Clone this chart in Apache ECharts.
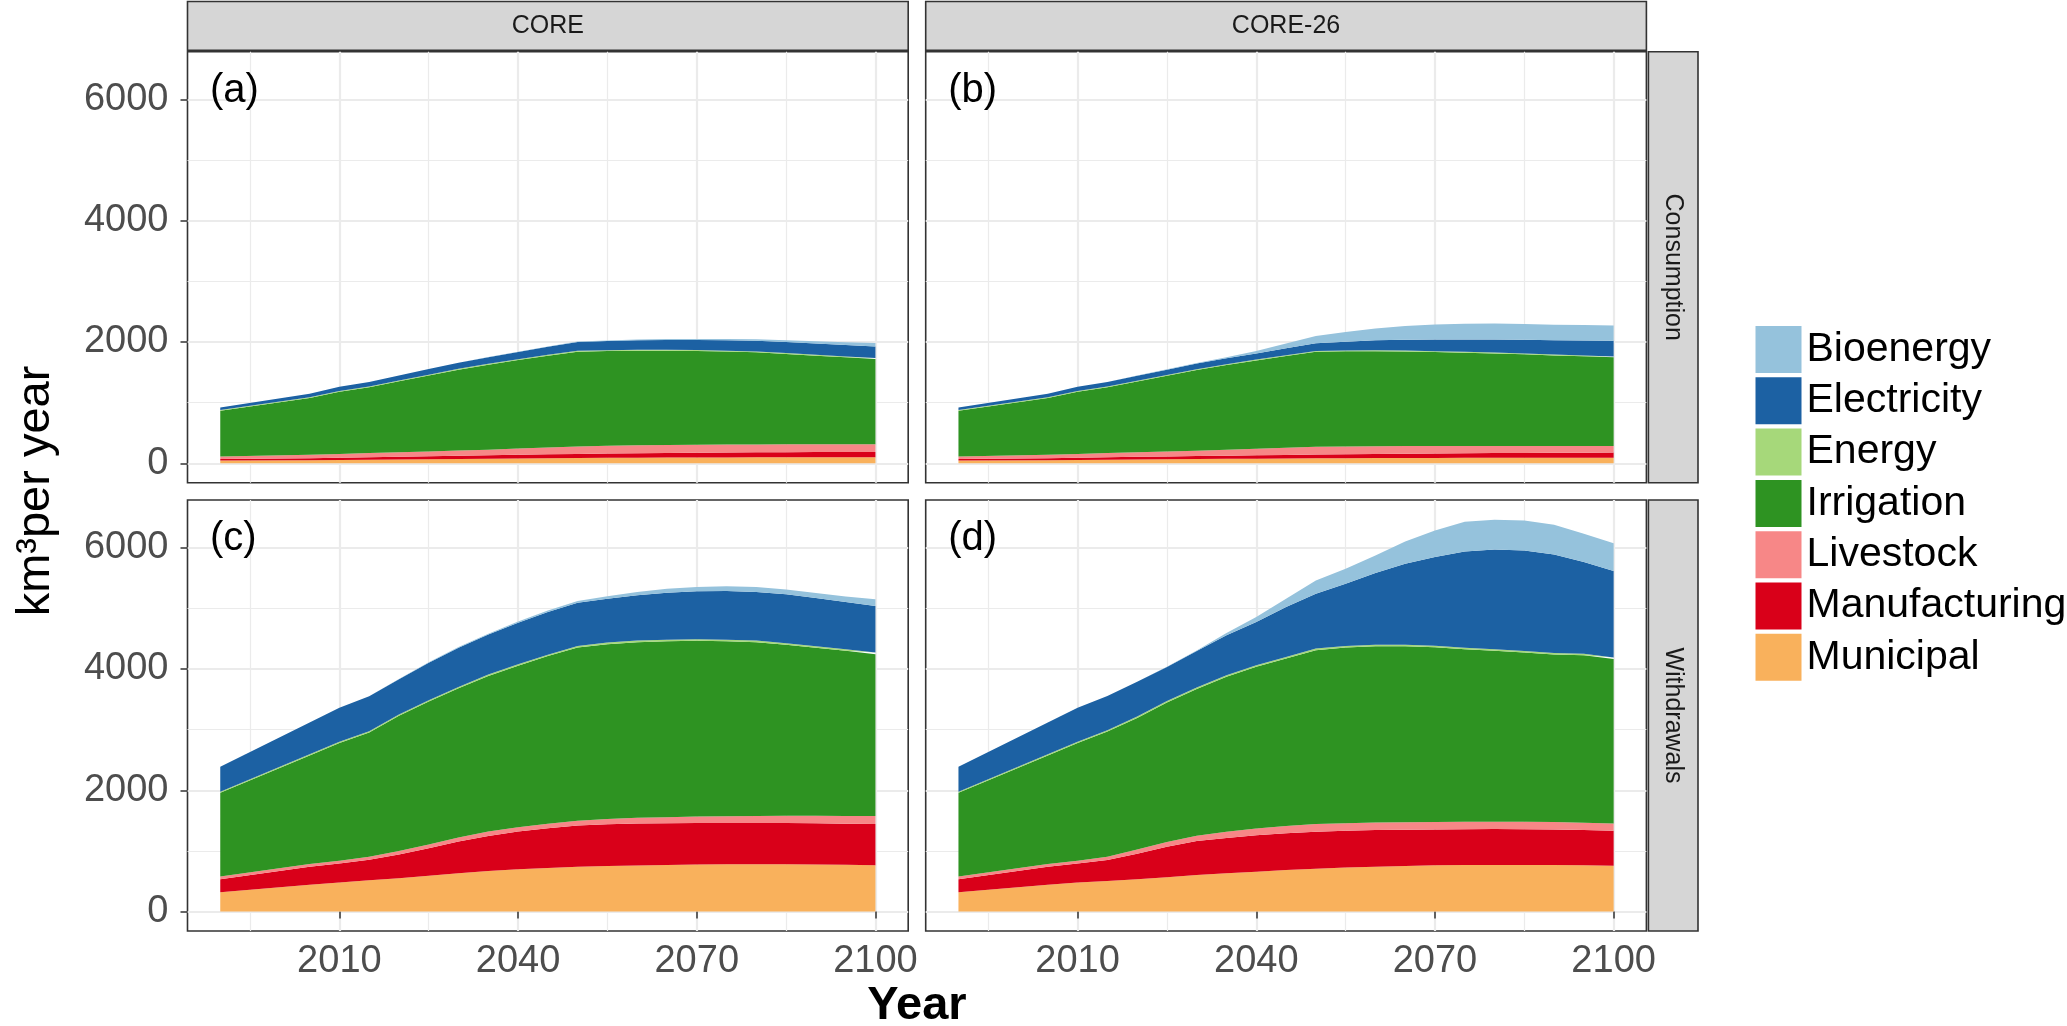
<!DOCTYPE html>
<html>
<head>
<meta charset="utf-8">
<script src="https://cdn.jsdelivr.net/npm/echarts@6/dist/echarts.min.js"></script>
<style>
html,body{margin:0;padding:0;background:#fff;}
#chart{width:2067px;height:1026px;}
</style>
</head>
<body>
<div id="chart"></div>
<script>
// ---------------- DATA ----------------
const years = [1990,2005,2010,2015,2020,2025,2030,2035,2040,2045,2050,2055,2060,2065,2070,2075,2080,2085,2090,2095,2100];
const sectors = ['Bioenergy','Electricity','Energy','Irrigation','Livestock','Manufacturing','Municipal'];
const xTickLabels = [2010,2040,2070,2100];
const xMinorGrid = [1995,2025,2055,2085];
const yTickLabels = [0,2000,4000,6000];
const yMinorGrid = [1000,3000,5000];
const scenarios = ['CORE','CORE-26'];
const metrics = ['Consumption','Withdrawals'];
const panelTags = ['(a)','(b)','(c)','(d)'];

// (a) CORE - Consumption
const coreConsMunicipal     = [44,52,56,60,64,68,72,76,80,84,87,90,92,94,96,97,98,99,99,99,99];
const coreConsManufacturing = [27,33,37,40,44,48,52,56,60,63,67,70,73,76,78,81,83,84,86,87,88];
const coreConsLivestock     = [39,55,61,68,74,80,85,93,102,113,124,128,131,132,132,131,130,129,128,127,126];
const coreConsIrrigation    = [757,936,1026,1084,1169,1252,1334,1401,1460,1513,1562,1562,1560,1553,1545,1532,1518,1491,1461,1433,1406];
const coreConsEnergy        = [10,11,12,12,13,13,14,14,14,15,15,15,15,15,15,15,15,15,15,15,15];
const coreConsElectricity   = [44,60,70,78,85,92,100,110,120,132,143,150,157,163,168,172,176,180,184,188,192];
const coreConsBioenergy     = [0,0,0,0,0,0,0,2,4,6,8,10,12,14,16,20,25,30,38,45,55];

// (b) CORE-26 - Consumption
const c26ConsMunicipal     = [44,52,56,60,64,67,70,73,76,79,82,84,86,88,89,90,91,92,92,92,92];
const c26ConsManufacturing = [27,33,37,40,43,46,49,52,55,58,61,64,67,70,72,75,77,79,81,83,84];
const c26ConsLivestock     = [39,55,61,68,74,81,88,97,107,118,129,130,129,127,125,122,119,116,114,111,110];
const c26ConsIrrigation    = [757,936,1026,1084,1167,1249,1331,1398,1458,1513,1566,1567,1566,1558,1547,1536,1523,1509,1491,1477,1460];
const c26ConsEnergy        = [10,11,12,12,13,13,14,14,14,15,15,15,15,15,15,15,15,15,15,15,15];
const c26ConsElectricity   = [44,60,70,78,84,88,92,96,99,112,126,145,165,180,192,203,214,225,236,247,258];
const c26ConsBioenergy     = [0,0,0,0,2,5,10,20,44,80,121,160,192,225,247,258,264,260,253,253,253];

// (c) CORE - Withdrawals
const coreWithMunicipal     = [320,441,479,515,551,592,633,668,699,720,738,750,759,768,776,779,781,779,776,771,765];
const coreWithManufacturing = [214,300,315,340,390,453,521,580,620,654,680,690,692,689,686,683,681,681,680,679,680];
const coreWithLivestock     = [44,42,44,50,58,63,68,71,73,76,78,86,94,100,105,110,115,119,123,127,132];
const coreWithIrrigation    = [1381,1791,1941,2047,2229,2354,2459,2564,2661,2762,2858,2883,2897,2901,2897,2886,2865,2819,2770,2722,2667];
const coreWithEnergy        = [18,20,21,22,22,23,23,24,24,24,25,25,25,25,25,25,25,25,25,25,25];
const coreWithElectricity   = [412,523,560,576,580,619,647,659,686,703,714,725,747,775,790,802,801,807,796,780,769];
const coreWithBioenergy     = [0,0,0,0,5,8,10,14,20,24,25,38,54,65,71,80,82,78,80,90,109];

// (d) CORE-26 - Withdrawals
const c26WithMunicipal     = [320,441,479,505,535,568,604,632,658,684,708,725,741,752,763,766,768,768,768,762,757];
const c26WithManufacturing = [214,300,315,345,420,502,559,583,599,606,609,607,603,598,592,592,593,591,587,583,576];
const c26WithLivestock     = [44,42,44,55,68,78,88,100,112,120,125,124,123,122,122,122,121,121,121,121,121];
const c26WithIrrigation    = [1381,1791,1941,2063,2170,2300,2420,2557,2667,2763,2868,2898,2908,2903,2882,2846,2817,2791,2762,2761,2708];
const c26WithEnergy        = [18,20,21,22,22,23,23,24,24,24,25,25,25,25,25,25,25,25,25,25,25];
const c26WithElectricity   = [412,523,560,565,572,562,600,658,714,824,905,1026,1180,1334,1460,1586,1646,1657,1625,1509,1426];
const c26WithBioenergy     = [0,0,0,0,0,5,12,39,82,137,220,247,291,365,439,488,488,494,488,467,461];

// ---------------- STYLE / LAYOUT ----------------
const colors = {
  Bioenergy:'#95c2dc', Electricity:'#1c61a3', Energy:'#a6d87a', Irrigation:'#2e9322',
  Livestock:'#f78787', Manufacturing:'#d90019', Municipal:'#f9b15c'
};
const FONT = "'Liberation Sans', Arial, Helvetica, sans-serif";
const PW = 720.7, PH = 431;
const panels = [
  {left:187.5, top:51.7, data:{Municipal:coreConsMunicipal,Manufacturing:coreConsManufacturing,Livestock:coreConsLivestock,Irrigation:coreConsIrrigation,Energy:coreConsEnergy,Electricity:coreConsElectricity,Bioenergy:coreConsBioenergy}},
  {left:925.7, top:51.7, data:{Municipal:c26ConsMunicipal,Manufacturing:c26ConsManufacturing,Livestock:c26ConsLivestock,Irrigation:c26ConsIrrigation,Energy:c26ConsEnergy,Electricity:c26ConsElectricity,Bioenergy:c26ConsBioenergy}},
  {left:187.5, top:500, data:{Municipal:coreWithMunicipal,Manufacturing:coreWithManufacturing,Livestock:coreWithLivestock,Irrigation:coreWithIrrigation,Energy:coreWithEnergy,Electricity:coreWithElectricity,Bioenergy:coreWithBioenergy}},
  {left:925.7, top:500, data:{Municipal:c26WithMunicipal,Manufacturing:c26WithManufacturing,Livestock:c26WithLivestock,Irrigation:c26WithIrrigation,Energy:c26WithEnergy,Electricity:c26WithElectricity,Bioenergy:c26WithBioenergy}}
];
const XMIN = 1984.5, XMAX = 2105.5, YMIN = -320, YMAX = 6785;
const plain = v => String(v);

const grids = [], xAxes = [], yAxes = [], series = [];
panels.forEach((p, gi) => {
  const isLeft = (gi % 2 === 0), isBottom = (gi >= 2);
  grids.push({left:p.left, top:p.top, width:PW, height:PH, show:true,
    backgroundColor:'#fff', borderColor:'#333', borderWidth:1.6, containLabel:false});
  // major x
  xAxes.push({type:'value', gridIndex:gi, min:XMIN, max:XMAX, position:'bottom',
    axisLine:{show:false},
    axisTick:{show:true, customValues:xTickLabels, length:7, lineStyle:{color: isBottom ? '#333' : 'rgba(0,0,0,0)', width:1.5}},
    axisLabel:{show:isBottom, customValues:xTickLabels, formatter:plain, fontSize:38, color:'#4d4d4d', margin:12, fontFamily:FONT},
    splitLine:{show:true, lineStyle:{color:'#ebebeb', width:2.2}}});
  // minor x
  xAxes.push({type:'value', gridIndex:gi, min:XMIN, max:XMAX, position:'top',
    axisLine:{show:false},
    axisTick:{show:true, customValues:xMinorGrid, length:0, lineStyle:{color:'rgba(0,0,0,0)'}},
    axisLabel:{show:false},
    splitLine:{show:true, lineStyle:{color:'#ebebeb', width:1.2}}});
  // major y
  yAxes.push({type:'value', gridIndex:gi, min:YMIN, max:YMAX, position:'left',
    axisLine:{show:false},
    axisTick:{show:true, customValues:yTickLabels, length:7, lineStyle:{color: isLeft ? '#333' : 'rgba(0,0,0,0)', width:1.5}},
    axisLabel:{show:isLeft, customValues:yTickLabels, formatter:plain, fontSize:38, color:'#4d4d4d', margin:19, fontFamily:FONT},
    splitLine:{show:true, lineStyle:{color:'#ebebeb', width:2.2}}});
  // minor y
  yAxes.push({type:'value', gridIndex:gi, min:YMIN, max:YMAX, position:'right',
    axisLine:{show:false},
    axisTick:{show:true, customValues:yMinorGrid, length:0, lineStyle:{color:'rgba(0,0,0,0)'}},
    axisLabel:{show:false},
    splitLine:{show:true, lineStyle:{color:'#ebebeb', width:1.2}}});
  // stacked areas: bottom first. Value is the first dimension so the stack is applied to y.
  const order = ['Municipal','Manufacturing','Livestock','Irrigation','Energy','Electricity','Bioenergy'];
  order.forEach(name => {
    const vals = p.data[name];
    series.push({type:'line', name:name, xAxisIndex:gi*2, yAxisIndex:gi*2, stack:'panel'+gi,
      data: years.map((y,i)=>[vals[i], y]),
      encode:{x:1, y:0},
      symbol:'none', showSymbol:false, smooth:false,
      lineStyle:{width:0, color:colors[name]},
      itemStyle:{color:colors[name]},
      areaStyle:{color:colors[name], opacity:1},
      emphasis:{disabled:true}, silent:true, z:3});
  });
});

// graphic elements: strips, panel tags, axis titles
const graphic = [];
panels.slice(0,2).forEach((p,i)=>{
  graphic.push({type:'rect', shape:{x:p.left, y:1.5, width:PW, height:48.8},
    style:{fill:'#d6d6d6', stroke:'#333', lineWidth:1.6}, silent:true});
  graphic.push({type:'text', x:p.left+PW/2, y:26, silent:true,
    style:{text:scenarios[i], fontSize:25, fontFamily:FONT, fill:'#1a1a1a', align:'center', verticalAlign:'middle'}});
});
[51.7, 500].forEach((t,i)=>{
  graphic.push({type:'rect', shape:{x:1648.4, y:t, width:49.6, height:PH},
    style:{fill:'#d6d6d6', stroke:'#333', lineWidth:1.6}, silent:true});
  graphic.push({type:'text', x:1673, y:t+PH/2, rotation:-Math.PI/2, silent:true,
    style:{text:metrics[i], fontSize:25, fontFamily:FONT, fill:'#1a1a1a', align:'center', verticalAlign:'middle'}});
});
panels.forEach((p,i)=>{
  graphic.push({type:'text', x:p.left+22.5, y:p.top+39, silent:true, z:10,
    style:{text:panelTags[i], fontSize:40, fontFamily:FONT, fill:'#000', align:'left', verticalAlign:'middle'}});
});
graphic.push({type:'text', x:36, y:491, rotation:Math.PI/2, silent:true,
  style:{text:'km³per year', fontSize:47, fontFamily:FONT, fill:'#000', align:'center', verticalAlign:'middle'}});
graphic.push({type:'text', x:917, y:1006, silent:true,
  style:{text:'Year', fontSize:47, fontWeight:'bold', fontFamily:FONT, fill:'#000', align:'center', verticalAlign:'middle'}});

const chart = echarts.init(document.getElementById('chart'), null, {renderer:'canvas'});
chart.setOption({
  animation:false,
  backgroundColor:'#fff',
  grid: grids,
  xAxis: xAxes,
  yAxis: yAxes,
  legend: {
    orient:'vertical', left:1750.5, top:321, itemWidth:46, itemHeight:47, itemGap:4.3,
    icon:'rect', selectedMode:false, data:sectors,
    textStyle:{fontSize:41, color:'#000', fontFamily:FONT}
  },
  graphic: graphic,
  series: series
});
</script>
</body>
</html>
